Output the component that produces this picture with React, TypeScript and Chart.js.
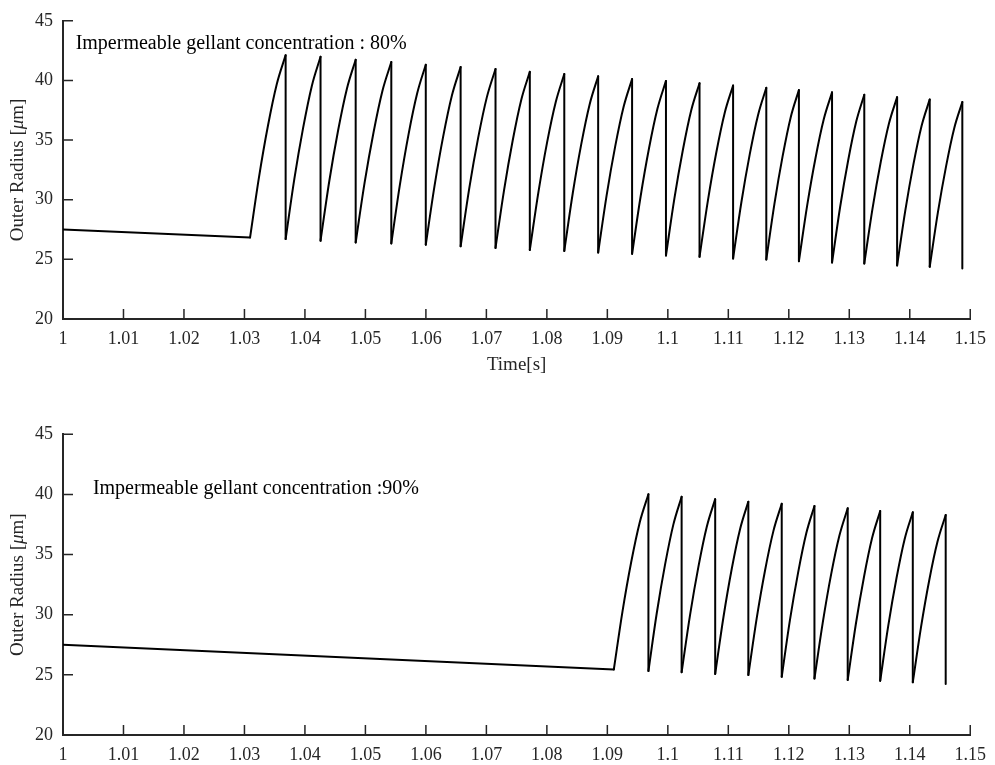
import React, { useEffect, useRef } from 'react';
import { Chart, registerables } from 'chart.js';

Chart.register(...registerables);

// ---------- data ----------
const xTickValues = [1, 1.01, 1.02, 1.03, 1.04, 1.05, 1.06, 1.07, 1.08, 1.09, 1.1, 1.11, 1.12, 1.13, 1.14, 1.15];
const xTickLabels = ['1', '1.01', '1.02', '1.03', '1.04', '1.05', '1.06', '1.07', '1.08', '1.09', '1.1', '1.11', '1.12', '1.13', '1.14', '1.15'];
const yTickValues = [20, 25, 30, 35, 40, 45];

const topTime = [
  1.0, 1.03093,
  1.0324, 1.03387, 1.03534, 1.03681, 1.03681,
  1.03825, 1.0397, 1.04114, 1.04258, 1.04258,
  1.04403, 1.04549, 1.04694, 1.04839, 1.04839,
  1.04986, 1.05134, 1.05281, 1.05428, 1.05428,
  1.05571, 1.05713, 1.05856, 1.05998, 1.05998,
  1.06142, 1.06286, 1.0643, 1.06574, 1.06574,
  1.06718, 1.06863, 1.07007, 1.07151, 1.07151,
  1.07293, 1.07435, 1.07576, 1.07718, 1.07718,
  1.07861, 1.08003, 1.08146, 1.08288, 1.08288,
  1.08428, 1.08568, 1.08708, 1.08848, 1.08848,
  1.08988, 1.09129, 1.09269, 1.09409, 1.09409,
  1.09549, 1.09689, 1.09829, 1.09969, 1.09969,
  1.10108, 1.10247, 1.10385, 1.10524, 1.10524,
  1.10663, 1.10802, 1.1094, 1.11079, 1.11079,
  1.11216, 1.11354, 1.11491, 1.11628, 1.11628,
  1.11763, 1.11898, 1.12032, 1.12167, 1.12167,
  1.12304, 1.12441, 1.12578, 1.12715, 1.12715,
  1.12848, 1.12982, 1.13115, 1.13248, 1.13248,
  1.13384, 1.1352, 1.13655, 1.13791, 1.13791,
  1.13926, 1.14061, 1.14195, 1.1433, 1.1433,
  1.14465, 1.146, 1.14734, 1.14869, 1.14869,
];
const topRadius = [
  27.5, 26.84,
  31.88, 36.16, 39.68, 42.12, 26.70,
  31.74, 36.02, 39.54, 41.98, 26.56,
  31.57, 35.82, 39.31, 41.74, 26.42,
  31.41, 35.64, 39.12, 41.54, 26.34,
  31.28, 35.48, 38.92, 41.32, 26.23,
  31.14, 35.31, 38.74, 41.12, 26.09,
  31.00, 35.16, 38.58, 40.96, 25.96,
  30.83, 34.96, 38.36, 40.72, 25.79,
  30.66, 34.79, 38.18, 40.54, 25.71,
  30.54, 34.64, 38.01, 40.35, 25.57,
  30.37, 34.45, 37.79, 40.12, 25.46,
  30.25, 34.31, 37.64, 39.96, 25.32,
  30.09, 34.13, 37.46, 39.77, 25.21,
  29.95, 33.98, 37.28, 39.58, 25.07,
  29.79, 33.80, 37.09, 39.38, 24.98,
  29.67, 33.65, 36.92, 39.19, 24.85,
  29.52, 33.48, 36.74, 39.00, 24.73,
  29.37, 33.31, 36.55, 38.80, 24.65,
  29.25, 33.16, 36.37, 38.60, 24.49,
  29.08, 32.98, 36.18, 38.41, 24.38,
  28.94, 32.80, 35.98, 38.19, 24.24,
];

const bottomTime = [
  1.0, 1.09107,
  1.0925, 1.09393, 1.09536, 1.09679, 1.09679,
  1.09816, 1.09954, 1.10091, 1.10228, 1.10228,
  1.10367, 1.10506, 1.10644, 1.10783, 1.10783,
  1.1092, 1.11057, 1.11194, 1.11331, 1.11331,
  1.11469, 1.11607, 1.11745, 1.11883, 1.11883,
  1.12018, 1.12154, 1.12289, 1.12424, 1.12424,
  1.12562, 1.12699, 1.12837, 1.12974, 1.12974,
  1.13108, 1.13243, 1.13377, 1.13511, 1.13511,
  1.13646, 1.13781, 1.13915, 1.1405, 1.1405,
  1.14186, 1.14322, 1.14458, 1.14594, 1.14594,
];
const bottomRadius = [
  27.5, 25.45,
  30.26, 34.34, 37.69, 40.02, 25.32,
  30.10, 34.16, 37.49, 39.81, 25.22,
  29.97, 34.00, 37.31, 39.61, 25.08,
  29.81, 33.82, 37.11, 39.40, 24.99,
  29.69, 33.68, 36.95, 39.23, 24.84,
  29.53, 33.50, 36.77, 39.04, 24.69,
  29.36, 33.33, 36.58, 38.85, 24.58,
  29.21, 33.14, 36.37, 38.62, 24.50,
  29.13, 33.05, 36.28, 38.52, 24.38,
  28.97, 32.87, 36.06, 38.29, 24.24,
];

const topNote = 'Impermeable gellant concentration : 80%';
const bottomNote = 'Impermeable gellant concentration :90%';
const xTitle = 'Time[s]';
// y title pieces: normal, italic, normal
const yTitleParts = ['Outer Radius [', 'μ', 'm]'];

// ---------- styling ----------
const FONT = '"Liberation Serif", "Times New Roman", serif';
const AXIS_COLOR = '#262626';

// Split the trace into smooth rising parts and straight parts (initial decline, vertical drops).
function splitTrace(time: number[], radius: number[]) {
  const curve: any[] = [];
  const straight: any[] = [];
  let lastCurveEnd = -1;
  let lastStraightEnd = -1;
  for (let i = 0; i < time.length - 1; i++) {
    const isStraight = i === 0 || time[i + 1] === time[i];
    const arr = isStraight ? straight : curve;
    const last = isStraight ? lastStraightEnd : lastCurveEnd;
    if (last !== i) {
      if (arr.length) arr.push({ x: time[i], y: null });
      arr.push({ x: time[i], y: radius[i] });
    }
    arr.push({ x: time[i + 1], y: radius[i + 1] });
    if (isStraight) lastStraightEnd = i + 1;
    else lastCurveEnd = i + 1;
  }
  return { curve, straight };
}

type PanelProps = {
  time: number[];
  radius: number[];
  note: string;
  noteX: number;
  noteY: number;
  showXTitle: boolean;
  width: number;
  height: number;
  padTop: number;
  xAxisHeight: number;
};

function Panel(props: PanelProps) {
  const ref = useRef<HTMLCanvasElement | null>(null);
  useEffect(() => {
    const canvas = ref.current;
    if (!canvas) return;
    const { curve, straight } = splitTrace(props.time, props.radius);
    const decorPlugin = {
      id: 'matlabDecor',
      afterDraw(chart: any) {
        const { ctx, chartArea } = chart;
        const xs = chart.scales.x;
        const ys = chart.scales.y;
        ctx.save();
        // inward tick marks
        ctx.strokeStyle = AXIS_COLOR;
        ctx.lineWidth = 1.5;
        ctx.beginPath();
        xs.ticks.forEach((t: any) => {
          const px = xs.getPixelForValue(t.value);
          ctx.moveTo(px, chartArea.bottom);
          ctx.lineTo(px, chartArea.bottom - 10);
        });
        ys.ticks.forEach((t: any) => {
          const py = ys.getPixelForValue(t.value);
          ctx.moveTo(chartArea.left, py);
          ctx.lineTo(chartArea.left + 10, py);
        });
        ctx.stroke();
        // annotation text
        ctx.fillStyle = '#000';
        ctx.font = `20px ${FONT}`;
        ctx.textAlign = 'left';
        ctx.textBaseline = 'alphabetic';
        ctx.fillText(props.note, xs.getPixelForValue(props.noteX), ys.getPixelForValue(props.noteY));
        // y axis title with italic mu
        const fonts = [`19px ${FONT}`, `italic 19px ${FONT}`, `19px ${FONT}`];
        const widths = yTitleParts.map((p, i) => {
          ctx.font = fonts[i];
          return ctx.measureText(p).width;
        });
        const total = widths.reduce((a, b) => a + b, 0);
        const cy = (chartArea.top + chartArea.bottom) / 2;
        ctx.translate(18, cy);
        ctx.rotate(-Math.PI / 2);
        ctx.fillStyle = AXIS_COLOR;
        ctx.textBaseline = 'middle';
        let xPos = -total / 2;
        yTitleParts.forEach((p, i) => {
          ctx.font = fonts[i];
          ctx.fillText(p, xPos, 0);
          xPos += widths[i];
        });
        ctx.restore();
      },
    };
    const lineStyle = {
      borderColor: '#000',
      borderWidth: 2,
      pointRadius: 0,
      fill: false,
      spanGaps: false,
      borderCapStyle: 'round',
      borderJoinStyle: 'round',
    };
    const chart = new Chart(canvas, {
      type: 'line',
      data: {
        datasets: [
          { ...lineStyle, data: curve, cubicInterpolationMode: 'monotone' },
          { ...lineStyle, data: straight, tension: 0 },
        ],
      },
      options: {
        animation: false,
        responsive: false,
        layout: { padding: { top: props.padTop, right: 21, left: 0, bottom: 0 } },
        plugins: { legend: { display: false }, tooltip: { enabled: false }, title: { display: false } },
        scales: {
          x: {
            type: 'linear',
            min: 1,
            max: 1.15,
            afterBuildTicks: (s: any) => {
              s.ticks = xTickValues.map((v) => ({ value: v }));
            },
            afterFit: (s: any) => {
              s.height = props.xAxisHeight;
            },
            ticks: {
              autoSkip: false,
              maxRotation: 0,
              padding: 9,
              color: AXIS_COLOR,
              font: { family: FONT, size: 18 },
              callback: (_v: any, i: number) => xTickLabels[i],
            },
            grid: { display: false, drawTicks: false },
            border: { display: true, color: AXIS_COLOR, width: 2 },
            title: {
              display: props.showXTitle,
              text: xTitle,
              color: AXIS_COLOR,
              font: { family: FONT, size: 19 },
              padding: { top: 0, bottom: 6.6 },
            },
          },
          y: {
            type: 'linear',
            min: 20,
            max: 45,
            afterBuildTicks: (s: any) => {
              s.ticks = yTickValues.map((v) => ({ value: v }));
            },
            afterFit: (s: any) => {
              s.width = 63;
            },
            ticks: {
              padding: 10,
              color: AXIS_COLOR,
              font: { family: FONT, size: 18 },
            },
            grid: { display: false, drawTicks: false },
            border: { display: true, color: AXIS_COLOR, width: 2 },
            title: { display: false },
          },
        },
      },
      plugins: [decorPlugin],
    } as any);
    return () => chart.destroy();
  }, []);
  return (
    <canvas
      ref={ref}
      width={props.width}
      height={props.height}
      style={{ display: 'block', width: props.width, height: props.height }}
    />
  );
}

export default function App() {
  return (
    <div style={{ position: 'absolute', left: 0, top: 0, width: 995, height: 765, background: '#fff' }}>
      <Panel
        time={topTime}
        radius={topRadius}
        note={topNote}
        noteX={1.00209}
        noteY={42.62}
        showXTitle={true}
        width={995}
        height={383}
        padTop={18}
        xAxisHeight={64}
      />
      <Panel
        time={bottomTime}
        radius={bottomRadius}
        note={bottomNote}
        noteX={1.00494}
        noteY={40.01}
        showXTitle={false}
        width={995}
        height={382}
        padTop={51.3}
        xAxisHeight={30}
      />
    </div>
  );
}
